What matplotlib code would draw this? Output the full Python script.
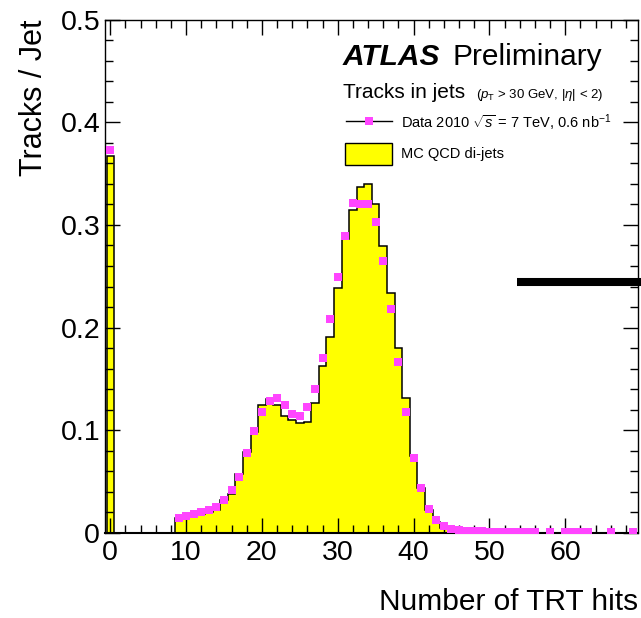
import numpy as np
import matplotlib
matplotlib.use("Agg")
import matplotlib.pyplot as plt
from matplotlib.lines import Line2D
from matplotlib.patches import Rectangle

plt.rcParams['font.family'] = ['Liberation Sans', 'DejaVu Sans']
plt.rcParams['mathtext.fontset'] = 'custom'
plt.rcParams['mathtext.rm'] = 'Liberation Sans'
plt.rcParams['mathtext.it'] = 'Liberation Sans:italic'
plt.rcParams['mathtext.bf'] = 'Liberation Sans:bold'

# MC QCD di-jets, one bin per number of TRT hits (0..69)
mc_hits = np.arange(0, 70)
mc_frac = [
    0.3675, 0, 0, 0, 0, 0, 0, 0, 0, 0.0145,
    0.0160, 0.0172, 0.0190, 0.0205, 0.0225, 0.0321, 0.0377, 0.0571, 0.0792, 0.0986,
    0.1246, 0.1305, 0.1242, 0.1136, 0.1104, 0.1070, 0.1081, 0.1270, 0.1630, 0.1908,
    0.2383, 0.2866, 0.3145, 0.3366, 0.3401, 0.3208, 0.2797, 0.2337, 0.1802, 0.1313,
    0.0754, 0.0435, 0.0224, 0.0110, 0.0050, 0.0025, 0.0015, 0.0010, 0.0008, 0.0007,
    0.0006, 0.0006, 0.0005, 0.0005, 0.0005, 0.0004, 0.0004, 0.0004, 0.0004, 0.0003,
    0.0003, 0.0003, 0.0003, 0.0003, 0.0003, 0.0002, 0.0002, 0.0002, 0.0002, 0.0002,
]

# Data 2010, 7 TeV
data_hits = [0, 9, 10, 11, 12, 13, 14, 15, 16, 17, 18, 19, 20, 21, 22, 23, 24,
             25, 26, 27, 28, 29, 30, 31, 32, 33, 34, 35, 36, 37, 38, 39, 40, 41,
             42, 43, 44, 45, 46, 47, 48, 49, 50, 51, 52, 53, 54, 55, 56, 58, 60,
             61, 62, 63, 66, 69]
data_frac = [0.373, 0.0149, 0.0169, 0.0182, 0.0201, 0.0221, 0.0250, 0.0318,
             0.0415, 0.0548, 0.0782, 0.0992, 0.1181, 0.1285, 0.1315, 0.1249,
             0.1156, 0.1142, 0.1227, 0.1399, 0.1707, 0.2082, 0.2493, 0.2889,
             0.3210, 0.3204, 0.3207, 0.3029, 0.2653, 0.2185, 0.1662, 0.1175,
             0.0727, 0.0440, 0.0233, 0.0128, 0.0065, 0.0042, 0.0027, 0.0020,
             0.0017, 0.0015, 0.0013, 0.0012, 0.0011, 0.0011, 0.0010, 0.0010,
             0.0009, 0.0008, 0.0008, 0.0007, 0.0007, 0.0007, 0.0006, 0.0006]

# thick marker line on the right
bar_x = [53.7, 70.1]
bar_y = [0.2445, 0.2445]

YELLOW = '#ffff00'
MAGENTA = '#ff45ff'

fig = plt.figure(figsize=(6.41, 6.18), dpi=100)
ax = fig.add_axes([0.1638, 0.1375, 0.8315, 0.8309])

edges = np.append(mc_hits - 0.5, mc_hits[-1] + 0.5)
ax.stairs(mc_frac, edges, fill=True, color=YELLOW, zorder=1)
ax.stairs(mc_frac, edges, color='black', linewidth=1.1, baseline=0, zorder=2)

ax.plot(data_hits, data_frac, linestyle='none', marker='s', markersize=5.1,
        color=MAGENTA, markeredgewidth=0, zorder=3)

ax.plot(bar_x, bar_y, color='black', linewidth=5.8, solid_capstyle='butt',
        clip_on=False, zorder=4)

ax.set_xlim(-0.7, 69.6)
ax.set_ylim(0, 0.5)
ax.set_xticks(np.arange(0, 70, 10))
ax.set_xticks(np.arange(0, 70, 2), minor=True)
ax.set_yticks(np.arange(0, 0.51, 0.1))
ax.set_yticks(np.arange(0, 0.51, 0.02), minor=True)
ax.set_yticklabels(['0', '0.1', '0.2', '0.3', '0.4', '0.5'])

ax.tick_params(which='both', direction='in', top=True, right=True,
               labelsize=20.5, width=1.0)
ax.tick_params(which='major', length=11)
ax.tick_params(which='minor', length=5.5)
ax.tick_params(axis='y', pad=3.5)
ax.tick_params(axis='x', pad=5)
for side in ['left', 'right', 'top']:
    ax.spines[side].set_linewidth(1.0)
ax.spines['bottom'].set_linewidth(1.5)

ax.set_ylabel('Tracks / Jet', fontsize=22, loc='top')
ax.yaxis.set_label_coords(-0.105, 1.0)
ax.set_xlabel('Number of TRT hits', fontsize=21.5, loc='right')
ax.xaxis.set_label_coords(1.0, -0.108)

ax.text(0.4465, 0.9114, 'ATLAS', transform=ax.transAxes, fontsize=21.5,
        fontweight='bold', fontstyle='italic', va='baseline')
ax.text(0.652, 0.9114, 'Preliminary', transform=ax.transAxes, fontsize=21.5,
        va='baseline')
ax.text(0.4465, 0.8477, 'Tracks in jets', transform=ax.transAxes,
        fontsize=15, va='baseline')
ax.text(0.697, 0.8477, r'($p_{\mathrm{T}}$ > 30 GeV, |$\eta$| < 2)',
        transform=ax.transAxes, fontsize=9.5, va='baseline')

# legend
ax.add_line(Line2D([0.452, 0.5385], [0.803, 0.803], color='black',
                   linewidth=1.0, transform=ax.transAxes))
ax.add_line(Line2D([0.4953], [0.803], marker='s', markersize=5.1,
                   markeredgewidth=0, color=MAGENTA, transform=ax.transAxes))
ax.text(0.555, 0.789, r'Data 2010 $\sqrt{s}$ = 7 TeV, 0.6 nb$^{-1}$',
        transform=ax.transAxes, fontsize=10.5, va='baseline')
ax.add_patch(Rectangle((0.450, 0.7167), 0.088, 0.0433, facecolor=YELLOW,
                       edgecolor='black', linewidth=1.0, transform=ax.transAxes))
ax.text(0.555, 0.731, 'MC QCD di-jets', transform=ax.transAxes,
        fontsize=10.5, va='baseline')

fig.savefig('out.png', dpi=100)
